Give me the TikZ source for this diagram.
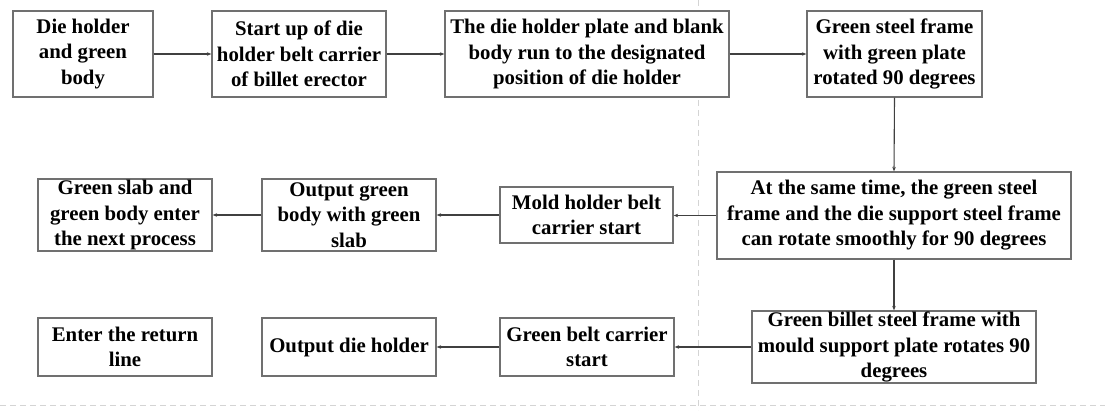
\documentclass[tikz,border=0pt]{standalone}
\usepackage{fontspec}
\setmainfont{Liberation Serif}
\usetikzlibrary{arrows.meta}
\definecolor{boxline}{HTML}{707070}
\definecolor{arrline}{HTML}{404040}
\definecolor{guide}{HTML}{D4D4D4}
\begin{document}
\begin{tikzpicture}[x=1pt,y=1pt,
  stepbox/.style={draw=boxline,line width=1.3pt,fill=white,inner sep=0pt,align=center,
    font=\fontsize{20.8}{25.5}\selectfont\bfseries},
  flow/.style={draw=arrline,line width=1.1pt,-{Stealth[length=4.5pt,width=3.5pt]}},
  guideline/.style={draw=guide,line width=0.9pt,dash pattern=on 6pt off 4pt}]
\useasboundingbox (0,0) rectangle (1105,410);
\fill[white] (0,0) rectangle (1105,410);
\coordinate (gt) at (698,410);
\coordinate (gb) at (698,0);
\coordinate (hl) at (0,5);
\coordinate (hr) at (1105,5);
\draw[guideline] (gt) -- (gb);
\draw[guideline] (hl) -- (hr);
% row 1
\node[stepbox,minimum width=140pt,minimum height=86pt] (b1) at (83,356) {Die holder\\and green\\body};
\node[stepbox,minimum width=174pt,minimum height=86pt] (b2) at (299,356) {Start up of die\\holder belt carrier\\of billet erector};
\node[stepbox,minimum width=284pt,minimum height=86pt] (b3) at (587,356) {The die holder plate and blank\\body run to the designated\\position of die holder};
\node[stepbox,minimum width=175pt,minimum height=86pt] (b4) at (894.5,356) {Green steel frame\\with green plate\\rotated 90 degrees};
% row 2
\node[stepbox,minimum width=354pt,minimum height=87pt] (d) at (894,194.5) {At the same time, the green steel\\frame and the die support steel frame\\can rotate smoothly for 90 degrees};
\node[stepbox,minimum width=173pt,minimum height=56pt] (c) at (586.5,195) {Mold holder belt\\carrier start};
\node[stepbox,minimum width=174pt,minimum height=72pt] (b) at (349,195) {Output green\\body with green\\slab};
\node[stepbox,minimum width=174pt,minimum height=72pt] (a) at (125,195) {Green slab and\\green body enter\\the next process};
% row 3
\node[stepbox,minimum width=284pt,minimum height=72pt] (e) at (894,63) {Green billet steel frame with\\mould support plate rotates 90\\degrees};
\node[stepbox,minimum width=174pt,minimum height=58pt] (g) at (587,63) {Green belt carrier\\start};
\node[stepbox,minimum width=174pt,minimum height=58pt] (f) at (349,63) {Output die holder};
\node[stepbox,minimum width=174pt,minimum height=58pt] (h) at (125,63) {Enter the return\\line};
% connectors
\draw[flow] (b1.east) -- (b2.west);
\draw[flow] (b2.east) -- (b3.west);
\draw[flow] (b3.east) -- (b4.west);
\draw[flow] (b4.south) -- (d.north);
\draw[flow] (d.west) -- (c.east |- d.west);
\draw[flow] (c.west) -- (b.east |- c.west);
\draw[flow] (b.west) -- (a.east);
\draw[flow] (d.south) -- (e.north);
\draw[flow] (e.west) -- (g.east |- e.west);
\draw[flow] (g.west) -- (f.east);
\end{tikzpicture}
\end{document}
